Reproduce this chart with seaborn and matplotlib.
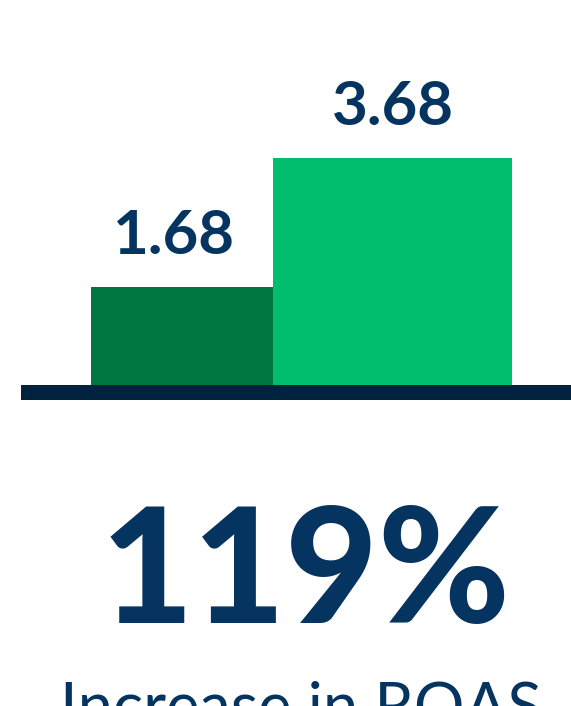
import matplotlib
matplotlib.use("Agg")
import matplotlib.pyplot as plt
import seaborn as sns
import pandas as pd
from matplotlib.patches import Rectangle

# ---- data ----
categories = ["Before", "After"]
roas_values = [1.68, 3.68]
value_labels = ["1.68", "3.68"]
headline = "119%"
subtitle = "Increase in ROAS"

# ---- style ----
bar_colors = ["#007640", "#00BE6E"]
bar_widths = [0.865, 1.135]
text_color = "#04345F"
line_color = "#00223F"

W, H = 571, 706
sns.set_theme(style="white")
plt.rcParams["font.family"] = ["Lato", "DejaVu Sans"]

fig = plt.figure(figsize=(W / 100, H / 100), dpi=100)
fig.patch.set_facecolor("white")

# axes: bottom edge at the baseline (385 px from top)
ax = fig.add_axes([0, (H - 385) / H, 1, 385 / H])
df = pd.DataFrame({"cat": categories, "roas": roas_values})
sns.barplot(data=df, x="cat", y="roas", hue="cat", palette=bar_colors,
            legend=False, ax=ax, width=1, saturation=1, linewidth=0)

for patch, w in zip(ax.patches, bar_widths):
    cx = patch.get_x() + patch.get_width() / 2
    patch.set_width(w)
    patch.set_x(cx - w / 2)

scale = 64.65  # px per unit
ybottom = 0.164
ax.set_ylim(ybottom, ybottom + 385 / scale)
ax.set_xlim(-182 / 210.5, (W - 182) / 210.5)
ax.axis("off")

label_dx = [-8, 0]  # px
for i, (v, lab) in enumerate(zip(roas_values, value_labels)):
    ax.annotate(lab, xy=(i, v), xytext=(label_dx[i] * 0.72, 33 * 0.72),
                textcoords="offset points",
                ha="center", va="baseline", fontsize=44.5, fontweight="bold",
                color=text_color)

# baseline bar
fig.add_artist(Rectangle((21 / W, (H - 400) / H), (W - 21) / W, 15 / H,
                         transform=fig.transFigure, facecolor=line_color,
                         edgecolor="none"))

fig.text(306 / W, (H - 623) / H, headline, ha="center", va="baseline",
         fontsize=115, fontweight="black", color=text_color)
fig.text(301 / W, (H - 680) / H, subtitle, ha="center", va="top",
         fontsize=45.5, fontweight="normal", color=text_color)

fig.savefig("out.png", dpi=100, facecolor="white")
